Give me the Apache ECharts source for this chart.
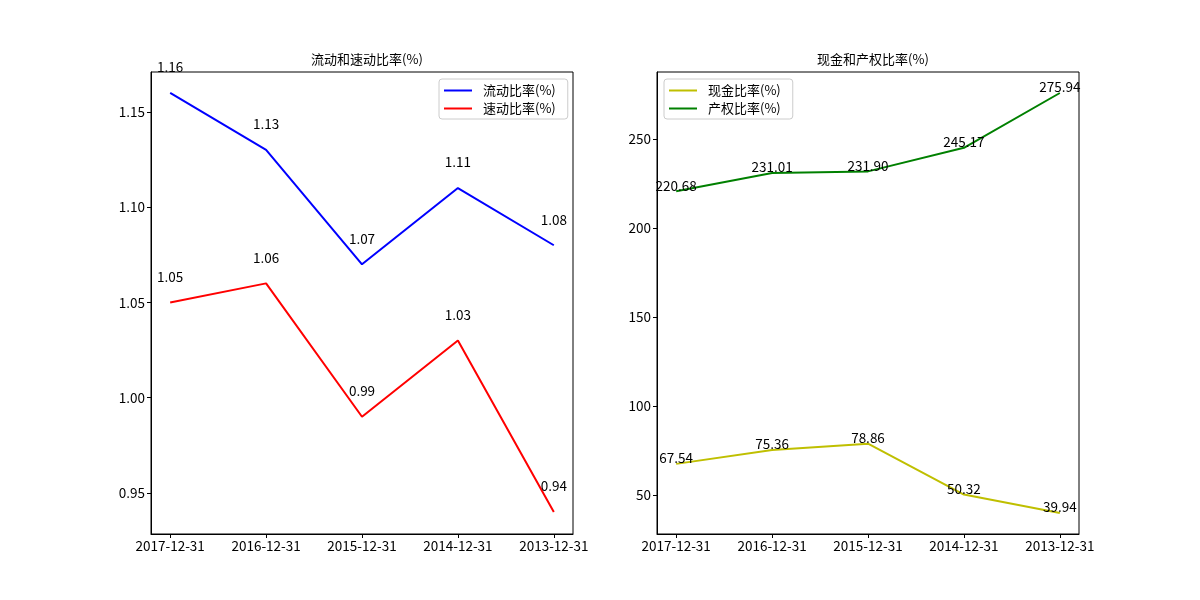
<!DOCTYPE html>
<html>
<head>
<meta charset="utf-8">
<script src="https://cdn.jsdelivr.net/npm/echarts@6/dist/echarts.min.js"></script>
<style>html,body{margin:0;padding:0;background:#fff}#c{width:1200px;height:600px}</style>
</head>
<body>
<div id="c"></div>
<script>
const categories = ['2017-12-31', '2016-12-31', '2015-12-31', '2014-12-31', '2013-12-31'];
const currentRatio = [1.16, 1.13, 1.07, 1.11, 1.08];
const quickRatio = [1.05, 1.06, 0.99, 1.03, 0.94];
const cashRatio = [67.54, 75.36, 78.86, 50.32, 39.94];
const equityRatio = [220.68, 231.01, 231.90, 245.17, 275.94];
const leftTicks = [0.95, 1.00, 1.05, 1.10, 1.15];
const rightTicks = [50, 100, 150, 200, 250];
const titles = ['流动和速动比率(%)', '现金和产权比率(%)'];
const names = ['流动比率(%)', '速动比率(%)', '现金比率(%)', '产权比率(%)'];

const FONT = '"Noto Sans CJK SC", sans-serif';
const catIdx = categories.map((_, i) => i);
function pts(arr) { return arr.map((v, i) => [i, v]); }
function xAxis(gi) {
  return {
    type: 'value', gridIndex: gi, min: -0.2, max: 4.2,
    splitLine: {show: false},
    axisLine: {show: true, onZero: false, lineStyle: {color: '#000', width: 1}},
    axisTick: {show: true, customValues: catIdx, length: 4, lineStyle: {color: '#000'}},
    axisLabel: {customValues: catIdx, formatter: v => categories[Math.round(v)], color: '#000', fontSize: 13.5, fontFamily: FONT, margin: 5}
  };
}
function yAxis(gi, min, max, ticks, dec) {
  return {
    type: 'value', gridIndex: gi, min: min, max: max,
    splitLine: {show: false},
    axisLine: {show: true, onZero: false, lineStyle: {color: '#000', width: 1}},
    axisTick: {show: true, customValues: ticks, length: 4, lineStyle: {color: '#000'}},
    axisLabel: {customValues: ticks, formatter: v => dec ? v.toFixed(dec) : String(Math.round(v)), color: '#000', fontSize: 13.5, fontFamily: FONT, margin: 6}
  };
}
function line(name, data, color, gi, dist) {
  return {
    name: name, type: 'line', xAxisIndex: gi, yAxisIndex: gi, data: pts(data),
    symbol: 'circle', symbolSize: 0, showSymbol: true,
    lineStyle: {color: color, width: 2}, itemStyle: {color: color},
    animation: false,
    labelLayout: {hideOverlap: false},
    label: {show: true, position: 'top', distance: dist, color: '#000', fontSize: 13.5, fontFamily: FONT,
      formatter: p => p.value[1].toFixed(2)}
  };
}
const chart = echarts.init(document.getElementById('c'), null, {renderer: 'canvas'});
chart.setOption({
  backgroundColor: '#fff',
  animation: false,
  title: [
    {text: titles[0], left: 362, top: 48, textAlign: 'center', textStyle: {fontSize: 13, fontWeight: 'normal', color: '#000', fontFamily: FONT}},
    {text: titles[1], left: 868, top: 48, textAlign: 'center', textStyle: {fontSize: 13, fontWeight: 'normal', color: '#000', fontFamily: FONT}}
  ],
  grid: [
    {left: 151, top: 72, width: 422, height: 462, show: true, borderColor: '#000', borderWidth: 1, containLabel: false},
    {left: 657, top: 72, width: 422, height: 462, show: true, borderColor: '#000', borderWidth: 1, containLabel: false}
  ],
  legend: [
    {data: [names[0], names[1]], orient: 'vertical', left: 439, top: 79, itemWidth: 28, itemHeight: 2, icon: 'rect', itemGap: 5,
      borderColor: '#ccc', borderWidth: 1, borderRadius: 3, padding: [5, 12, 4, 5], backgroundColor: 'rgba(255,255,255,0.8)',
      textStyle: {fontSize: 13, color: '#000', fontFamily: FONT, padding: [0, 0, 0, 6]}},
    {data: [names[2], names[3]], orient: 'vertical', left: 664, top: 79, itemWidth: 28, itemHeight: 2, icon: 'rect', itemGap: 5,
      borderColor: '#ccc', borderWidth: 1, borderRadius: 3, padding: [5, 12, 4, 5], backgroundColor: 'rgba(255,255,255,0.8)',
      textStyle: {fontSize: 13, color: '#000', fontFamily: FONT, padding: [0, 0, 0, 6]}}
  ],
  xAxis: [xAxis(0), xAxis(1)],
  yAxis: [yAxis(0, 0.9285, 1.1709, leftTicks, 2), yAxis(1, 28.14, 287.74, rightTicks, 0)],
  series: [
    line(names[0], currentRatio, '#0000ff', 0, 19),
    line(names[1], quickRatio, '#ff0000', 0, 19),
    line(names[2], cashRatio, '#bfbf00', 1, -1),
    line(names[3], equityRatio, '#008000', 1, -1)
  ]
});
</script>
</body>
</html>
